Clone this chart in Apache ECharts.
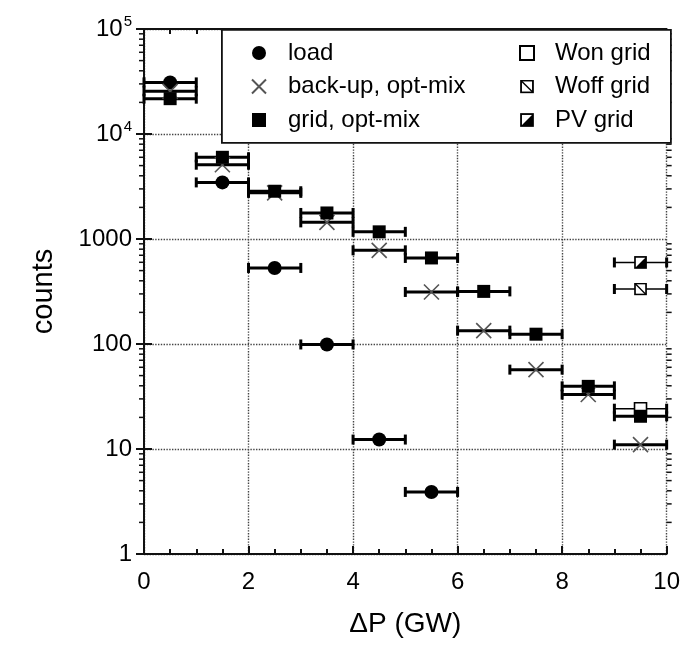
<!DOCTYPE html>
<html>
<head>
<meta charset="utf-8">
<script src="https://cdn.jsdelivr.net/npm/echarts@6/dist/echarts.min.js"></script>
<style>
html, body { margin: 0; padding: 0; background: #fff; }
#main { width: 683px; height: 648px; }
</style>
</head>
<body>
<div id="main"></div>
<script>
// bin centres (GW) and half bin width used for the horizontal bars
const binCenters = [0.5, 1.5, 2.5, 3.5, 4.5, 5.5, 6.5, 7.5, 8.5, 9.5];
const binHalf = 0.5;

// counts
const loadCounts   = [31000, 3460, 530, 99, 12.3, 3.9];
const backupCounts = [25500, 5100, 2750, 1440, 780, 313, 134, 57, 33, 11];
const gridCounts   = [21700, 6000, 2850, 1770, 1170, 660, 317, 124, 39.5, 20.5];
const wonX = [9.5],  wonCounts  = [24.2];
const woffX = [9.5], woffCounts = [334];
const pvX = [9.5],   pvCounts   = [598];

const xTicks = [0, 2, 4, 6, 8, 10];
const yTickLabels = ['1', '10', '100', '1000', '10^4', '10^5'];

const FONT = '"Liberation Sans", Arial, sans-serif';
const INK = '#000';

function pairs(xs, ys) {
    return ys.map((y, i) => [xs[i], y]);
}

// minor ticks of the log axis (2..9 in each decade)
const yMinor = [];
for (let k = 0; k < 5; k++) {
    for (let m = 2; m <= 9; m++) yMinor.push([0, m * Math.pow(10, k)]);
}

function svgIcon(inner) {
    const s = "<svg xmlns='http://www.w3.org/2000/svg' width='20' height='20' viewBox='0 0 20 20'>" + inner + "</svg>";
    return 'image://data:image/svg+xml;charset=utf-8,' + encodeURIComponent(s);
}
const woffIcon = svgIcon("<rect x='1.5' y='1.5' width='17' height='17' fill='white' stroke='black' stroke-width='2.6'/><line x1='2' y1='2' x2='18' y2='18' stroke='black' stroke-width='2'/>");
const pvIcon = svgIcon("<rect x='1.5' y='1.5' width='17' height='17' fill='white' stroke='black' stroke-width='2.6'/><polygon points='18.5,1.5 18.5,18.5 1.5,18.5' fill='black'/>");

// horizontal error bar with end caps
function errBar(lineW, capW) {
    return function (params, api) {
        const x = api.value(0), y = api.value(1);
        const a = api.coord([x - binHalf, y]);
        const b = api.coord([x + binHalf, y]);
        const cap = 5;
        return {
            type: 'group',
            children: [
                { type: 'line', shape: { x1: a[0], y1: a[1], x2: b[0], y2: b[1] }, style: { stroke: '#000', lineWidth: lineW } },
                { type: 'line', shape: { x1: a[0], y1: a[1] - cap, x2: a[0], y2: a[1] + cap }, style: { stroke: '#000', lineWidth: capW } },
                { type: 'line', shape: { x1: b[0], y1: b[1] - cap, x2: b[0], y2: b[1] + cap }, style: { stroke: '#000', lineWidth: capW } }
            ]
        };
    };
}

function barSeries(name, data, lineW) {
    return {
        name: name,
        type: 'custom',
        coordinateSystem: 'cartesian2d',
        renderItem: errBar(lineW, 3),
        data: data,
        z: 1,
        silent: true
    };
}

const chart = echarts.init(document.getElementById('main'));

const gridLine = { show: true, lineStyle: { color: '#444', type: 'dotted', width: 1.4 } };

chart.setOption({
    animation: false,
    backgroundColor: '#fff',
    textStyle: { fontFamily: FONT },
    grid: { left: 144, right: 13, top: 29, bottom: 94 },
    xAxis: [
        {
            type: 'value', min: 0, max: 10, interval: 2, position: 'bottom',
            name: 'ΔP (GW)', nameLocation: 'middle', nameGap: 56,
            nameTextStyle: { fontSize: 28, color: INK, fontFamily: FONT },
            axisLine: { show: true, lineStyle: { color: '#111', width: 2 } },
            axisTick: { show: true, inside: true, length: 8, lineStyle: { color: '#111', width: 2 } },
            minorTick: { show: true, splitNumber: 4, length: 5, lineStyle: { color: '#111', width: 2 } },
            axisLabel: {
                fontSize: 24, color: INK, margin: 16, fontFamily: FONT,
                formatter: v => String(xTicks[xTicks.indexOf(v)])
            },
            splitLine: gridLine
        },
        {
            type: 'value', min: 0, max: 10, interval: 2, position: 'top',
            axisLine: { show: true, lineStyle: { color: '#111', width: 2 } },
            axisTick: { show: true, inside: true, length: 8, lineStyle: { color: '#111', width: 2 } },
            minorTick: { show: true, splitNumber: 4, length: 5, lineStyle: { color: '#111', width: 2 } },
            axisLabel: { show: false },
            splitLine: { show: false }
        }
    ],
    yAxis: [
        {
            type: 'log', logBase: 10, min: 1, max: 100000, position: 'left',
            name: 'counts', nameLocation: 'middle', nameGap: 86,
            nameTextStyle: { fontSize: 29, color: INK, fontFamily: FONT },
            axisLine: { show: true, lineStyle: { color: '#111', width: 2 } },
            axisTick: { show: true, inside: false, length: 8, lineStyle: { color: '#111', width: 2 } },
            axisLabel: {
                fontSize: 24, color: INK, margin: 12, fontFamily: FONT,
                formatter: function (v) {
                    const e = Math.round(Math.log10(v));
                    const t = yTickLabels[e];
                    if (t.indexOf('^') > 0) {
                        const p = t.split('^');
                        return '{b|' + p[0] + '}{s|' + p[1] + '}';
                    }
                    return '{b|' + t + '}';
                },
                rich: {
                    b: { fontSize: 24, color: INK, fontFamily: FONT },
                    s: { fontSize: 15, color: INK, fontFamily: FONT, padding: [0, 0, 14, 1] }
                }
            },
            splitLine: gridLine
        },
        {
            type: 'log', logBase: 10, min: 1, max: 100000, position: 'right',
            axisLine: { show: true, lineStyle: { color: '#111', width: 2 } },
            axisTick: { show: true, inside: false, length: 8, lineStyle: { color: '#111', width: 2 } },
            axisLabel: { show: false },
            splitLine: { show: false }
        }
    ],
    graphic: [
        {
            type: 'rect', left: 221, top: 29, z: 5,
            shape: { width: 449, height: 113 },
            style: { fill: '#fff', stroke: '#111', lineWidth: 1.8 }
        }
    ],
    legend: [
        {
            data: ['load', 'back-up, opt-mix', 'grid, opt-mix'],
            orient: 'vertical', left: 251, top: 41, z: 10,
            itemWidth: 14, itemHeight: 14, itemGap: 9.5, padding: 0,
            selectedMode: false,
            textStyle: { fontSize: 24, lineHeight: 24, color: INK, fontFamily: FONT, padding: [0, 0, 0, 17] }
        },
        {
            data: ['Won grid', 'Woff grid', 'PV grid'],
            orient: 'vertical', left: 519, top: 41, z: 10,
            itemWidth: 14, itemHeight: 14, itemGap: 9.5, padding: 0,
            selectedMode: false,
            textStyle: { fontSize: 24, lineHeight: 24, color: INK, fontFamily: FONT, padding: [0, 0, 0, 16] }
        }
    ],
    series: [
        {
            name: 'minor-ticks',
            type: 'custom',
            coordinateSystem: 'cartesian2d',
            silent: true,
            clip: false,
            data: yMinor,
            renderItem: function (params, api) {
                const l = api.coord([0, api.value(1)]);
                const r = api.coord([10, api.value(1)]);
                return {
                    type: 'group',
                    children: [
                        { type: 'line', shape: { x1: l[0] - 5, y1: l[1], x2: l[0], y2: l[1] }, style: { stroke: '#111', lineWidth: 1.5 } },
                        { type: 'line', shape: { x1: r[0], y1: r[1], x2: r[0] + 5, y2: r[1] }, style: { stroke: '#111', lineWidth: 1.5 } }
                    ]
                };
            }
        },
        barSeries('load-bar', pairs(binCenters, loadCounts), 3),
        barSeries('backup-bar', pairs(binCenters, backupCounts), 3),
        barSeries('grid-bar', pairs(binCenters, gridCounts), 3),
        barSeries('won-bar', pairs(wonX, wonCounts), 1.5),
        barSeries('woff-bar', pairs(woffX, woffCounts), 1.5),
        barSeries('pv-bar', pairs(pvX, pvCounts), 1.5),
        {
            name: 'load', type: 'scatter', symbol: 'circle', symbolSize: 14, z: 3,
            itemStyle: { color: '#000', opacity: 1 },
            data: pairs(binCenters, loadCounts)
        },
        {
            name: 'back-up, opt-mix', type: 'scatter', symbol: 'path://M0,0L10,10M10,0L0,10', symbolSize: 15, z: 3,
            itemStyle: { color: 'transparent', borderColor: '#555', borderWidth: 1.6, opacity: 1 },
            data: pairs(binCenters, backupCounts)
        },
        {
            name: 'grid, opt-mix', type: 'scatter', symbol: 'rect', symbolSize: 13, z: 4,
            itemStyle: { color: '#000', opacity: 1 },
            data: pairs(binCenters, gridCounts)
        },
        {
            name: 'Won grid', type: 'scatter', symbol: 'rect', symbolSize: 12, z: 3,
            itemStyle: { color: '#fff', borderColor: '#000', borderWidth: 1.6, opacity: 1 },
            data: pairs(wonX, wonCounts)
        },
        {
            name: 'Woff grid', type: 'scatter', symbol: woffIcon, symbolSize: 13, z: 3,
            itemStyle: { color: '#000', opacity: 1 },
            data: pairs(woffX, woffCounts)
        },
        {
            name: 'PV grid', type: 'scatter', symbol: pvIcon, symbolSize: 13, z: 3,
            itemStyle: { color: '#000', opacity: 1 },
            data: pairs(pvX, pvCounts)
        }
    ]
});
</script>
</body>
</html>
